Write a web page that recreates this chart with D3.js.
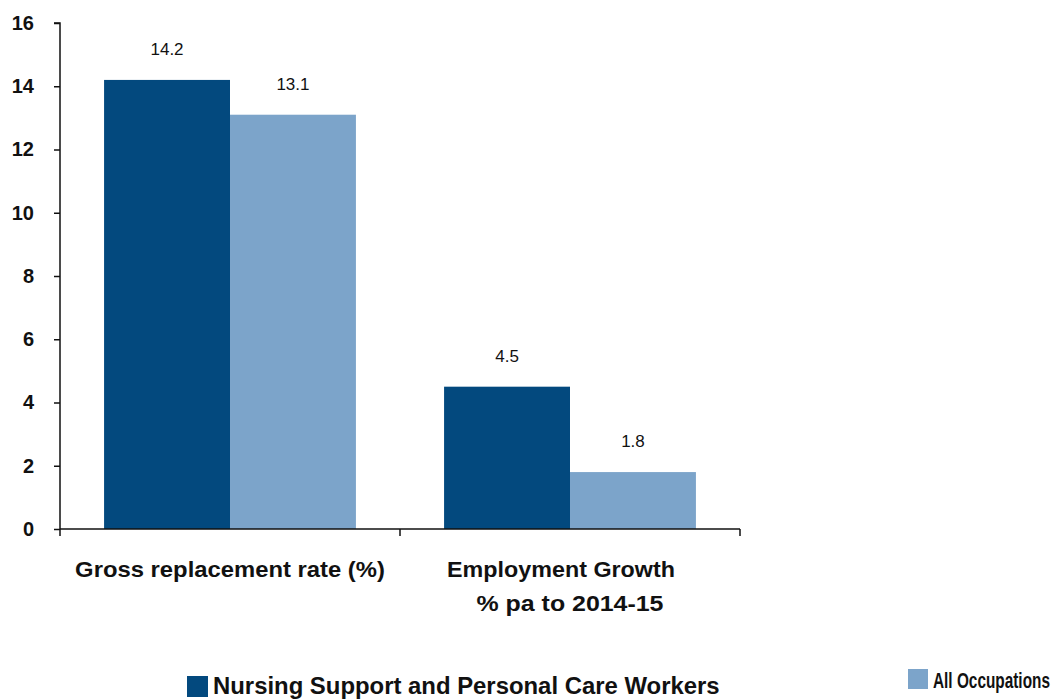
<!DOCTYPE html>
<html>
<head>
<meta charset="utf-8">
<script src="https://cdn.jsdelivr.net/npm/d3@7"></script>
<style>
  html, body { margin: 0; padding: 0; background: #fff; }
  svg { display: block; font-family: Arial, "Liberation Sans", sans-serif; }
</style>
</head>
<body>
<svg id="chart" width="1058" height="700"></svg>
<script>
// Categories (each may span two lines) and the two series
const categories = ["Gross replacement rate (%)", "Employment Growth\n% pa to 2014-15"];
const seriesNames = ["Nursing Support and Personal Care Workers", "All Occupations"];
const nursingValues = [14.2, 4.5];
const allOccValues = [13.1, 1.8];
const yTicks = [0, 2, 4, 6, 8, 10, 12, 14, 16];
const colors = ["#03497e", "#7ca4ca"];

const svg = d3.select("#chart");
const margin = { left: 60, right: 318, top: 23, bottom: 171 };
const W = 1058, H = 700;
const x0 = margin.left, x1 = W - margin.right;
const yTop = margin.top, yBot = H - margin.bottom;

const y = d3.scaleLinear().domain([0, 16]).range([yBot, yTop]);
const xBand = d3.scaleBand().domain(categories).range([x0, x1]).paddingInner(0).paddingOuter(0);
const xSub = d3.scaleBand().domain([0, 1]).range([0, xBand.bandwidth()]).paddingInner(0).paddingOuter(0.35);

const series = [nursingValues, allOccValues];

// Draws bold text horizontally squeezed to a target width (condensed look)
function condensedText(parent, str, x, yPos, width, size, anchor) {
  const grp = parent.append("g");
  const t = grp.append("text")
    .attr("font-size", size).attr("font-weight", "bold").attr("fill", "#111")
    .attr("text-anchor", anchor)
    .text(str);
  const natural = t.node().getComputedTextLength();
  const sx = width / natural;
  grp.attr("transform", `translate(${x},${yPos}) scale(${sx},1)`);
  return grp;
}

// Bars with value labels above
const g = svg.append("g");
categories.forEach((c, i) => {
  series.forEach((vals, s) => {
    const bx = xBand(c) + xSub(s);
    g.append("rect")
      .attr("x", bx)
      .attr("y", y(vals[i]))
      .attr("width", xSub.bandwidth())
      .attr("height", y(0) - y(vals[i]))
      .attr("fill", colors[s]);
    g.append("text")
      .attr("x", bx + xSub.bandwidth() / 2)
      .attr("y", y(vals[i]) - 25)
      .attr("text-anchor", "middle")
      .attr("font-size", 17)
      .attr("fill", "#111")
      .text(vals[i].toFixed(1));
  });
});

// Y axis
const yAxis = d3.axisLeft(y).tickValues(yTicks).tickSize(6).tickPadding(20).tickFormat(d3.format("d"));
const ya = svg.append("g").attr("transform", `translate(${x0},0)`).call(yAxis);
ya.select(".domain").attr("stroke", "#111").attr("stroke-width", 1.5).attr("d", `M-6,${yTop}H0V${yBot}`);
ya.selectAll(".tick line").attr("stroke", "#111").attr("stroke-width", 1.5);
ya.selectAll(".tick text")
  .attr("font-size", 20).attr("font-weight", "bold").attr("fill", "#111")
  .attr("font-family", "Arial, 'Liberation Sans', sans-serif");

// X axis: baseline with ticks at band edges
const xa = svg.append("g");
xa.append("line").attr("x1", x0).attr("x2", x1).attr("y1", yBot).attr("y2", yBot)
  .attr("stroke", "#111").attr("stroke-width", 1.5);
const edges = categories.map(c => xBand(c)).concat([x1]);
xa.selectAll("line.tk").data(edges).join("line").attr("class", "tk")
  .attr("x1", d => d).attr("x2", d => d).attr("y1", yBot).attr("y2", yBot + 7)
  .attr("stroke", "#111").attr("stroke-width", 1.5);

// Category labels (condensed bold)
const catWidths = [[310], [228, 187]];
categories.forEach((c, i) => {
  const lines = c.split("\n");
  lines.forEach((ln, k) => {
    condensedText(xa, ln,
      xBand(c) + xBand.bandwidth() / 2 + (i === 1 && k === 0 ? -9 : 0),
      yBot + 48 + k * 34, catWidths[i][k], 22, "middle");
  });
});

// Legend
const legend = [
  { x: 187, y: 676, size: 21, tx: 213, ty: 694, tw: 507, fs: 23 },
  { x: 908, y: 669, size: 20, tx: 933, ty: 688, tw: 117, fs: 22 }
];
legend.forEach((L, s) => {
  svg.append("rect").attr("x", L.x).attr("y", L.y).attr("width", L.size).attr("height", L.size).attr("fill", colors[s]);
  condensedText(svg, seriesNames[s], L.tx, L.ty, L.tw, L.fs, "start");
});
</script>
</body>
</html>
